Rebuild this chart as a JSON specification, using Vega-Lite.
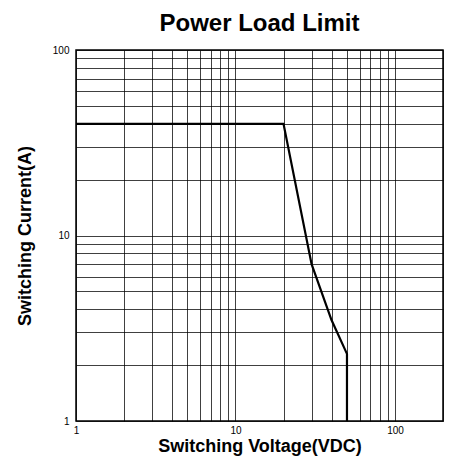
{
  "$schema": "https://vega.github.io/schema/vega-lite/v6.json",
  "autosize": "none",
  "width": 367,
  "height": 371,
  "padding": {"left": 76, "top": 50, "right": 9, "bottom": 38},
  "background": "white",
  "title": {"text": "Power Load Limit", "fontSize": 24, "font": "Liberation Sans", "fontWeight": "bold", "color": "#000", "offset": 9, "anchor": "middle"},
  "config": {
    "view": {"stroke": "#000", "strokeWidth": 1.5},
    "axis": {"domain": false, "ticks": false, "gridColor": "#000", "gridOpacity": 0.75, "gridWidth": 1, "labelFont": "Liberation Sans", "labelFontSize": 10, "labelColor": "#000", "titleFont": "Liberation Sans", "titleFontSize": 18, "titleFontWeight": "bold", "titleColor": "#000"}
  },
  "data": {"values": [
    {"v": 1, "i": 40, "o": 1},
    {"v": 20, "i": 40, "o": 2},
    {"v": 30, "i": 7, "o": 3},
    {"v": 40, "i": 3.5, "o": 4},
    {"v": 50, "i": 2.3, "o": 5},
    {"v": 50, "i": 1, "o": 6}
  ]},
  "mark": {"type": "line", "color": "#000", "strokeWidth": 2.2, "clip": true},
  "encoding": {
    "x": {"field": "v", "type": "quantitative", "scale": {"type": "log", "domain": [1, 200], "nice": false},
      "axis": {"title": "Switching Voltage(VDC)", "values": [1,2,3,4,5,6,7,8,9,10,20,30,40,50,60,70,80,90,100,200], "format": "d", "labelExpr": "datum.value==1||datum.value==10||datum.value==100 ? datum.label : ''", "labelPadding": 4, "titlePadding": 2, "labelFlush": false}},
    "y": {"field": "i", "type": "quantitative", "scale": {"type": "log", "domain": [1, 100], "nice": false},
      "axis": {"title": "Switching Current(A)", "values": [1,2,3,4,5,6,7,8,9,10,20,30,40,50,60,70,80,90,100], "format": "d", "labelExpr": "datum.value==1||datum.value==10||datum.value==100 ? datum.label : ''", "labelPadding": 7, "titlePadding": 18, "labelFlush": false}},
    "order": {"field": "o", "type": "quantitative"}
  }
}
